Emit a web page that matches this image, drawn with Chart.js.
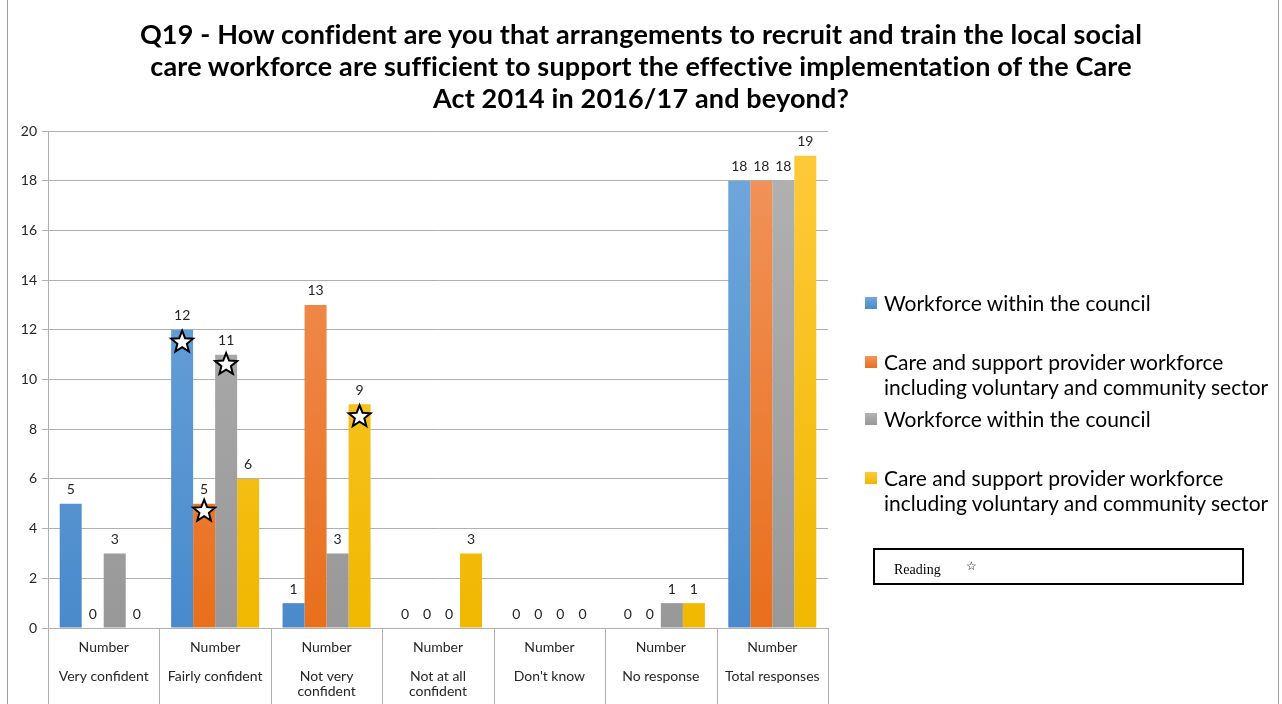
<!DOCTYPE html>
<html><head><meta charset="utf-8">
<script src="https://cdn.jsdelivr.net/npm/chart.js@4"></script>
<style>
html,body{margin:0;padding:0;background:#fff;}
#wrap{position:relative;width:1282px;height:704px;overflow:hidden;}
#c{position:absolute;left:0;top:0;}
.bl{position:absolute;top:0;width:1px;height:704px;background:#a0a0a0;}
#title{position:absolute;left:0;top:18px;width:1282px;text-align:center;font-family:Lato,"Open Sans",sans-serif;font-weight:bold;font-size:27px;line-height:32px;letter-spacing:0.15px;color:#000;}
#legend{position:absolute;left:865px;top:0;font-family:Lato,"Open Sans",sans-serif;font-size:21px;color:#000;}
.li{position:absolute;left:0;white-space:nowrap;line-height:25px;}
.sw{position:absolute;left:0;width:12px;height:12px;}
.tx{position:absolute;left:19px;}
#reading{position:absolute;left:873px;top:548px;width:367px;height:33px;border:2px solid #000;font-family:"Liberation Serif","DejaVu Serif",serif;font-size:14px;}
</style></head>
<body><div id="wrap">
<canvas id="c" width="1282" height="704"></canvas>
<div class="bl" style="left:7px"></div>
<div class="bl" style="left:1278px"></div>
<div id="title"></div>
<div id="legend"></div>
<div id="reading"><span style="position:absolute;left:19px;top:12px;">Reading</span><span style="position:absolute;left:91px;top:9px;font-family:'DejaVu Sans';font-size:12px;">☆</span></div>
</div>
<script>
const titleLines = ['Q19 - How confident are you that arrangements to recruit and train the local social', 'care workforce are sufficient to support the effective implementation of the Care', 'Act 2014 in 2016/17 and beyond?'];
const categories = [['Very confident'], ['Fairly confident'], ['Not very', 'confident'], ['Not at all', 'confident'], ["Don't know"], ['No response'], ['Total responses']];
const subLabel = 'Number';
const seriesNames = ['Workforce within the council', 'Care and support provider workforce including voluntary and community sector', 'Workforce within the council', 'Care and support provider workforce including voluntary and community sector'];
const legendLines = [['Workforce within the council'], ['Care and support provider workforce', 'including voluntary and community sector'], ['Workforce within the council'], ['Care and support provider workforce', 'including voluntary and community sector']];
const councilA = [5, 12, 1, 0, 0, 0, 18];
const providerA = [0, 5, 13, 0, 0, 0, 18];
const councilB = [3, 11, 3, 0, 0, 1, 18];
const providerB = [0, 6, 9, 3, 0, 1, 19];
const readingMarks = [
  {cat: 1, series: 0, value: 11.5},
  {cat: 1, series: 1, value: 4.7},
  {cat: 1, series: 2, value: 10.6},
  {cat: 2, series: 3, value: 8.5}
];
const yTicks = [0, 2, 4, 6, 8, 10, 12, 14, 16, 18, 20];

const gradStops = [['#72a9de', '#4a8acb'], ['#f2955e', '#e86f1c'], ['#b3b3b3', '#989898'], ['#ffca3c', '#f0b800']];
const solid = ['#5b9bd5', '#ed7d31', '#a5a5a5', '#ffc000'];

document.getElementById('title').innerHTML = titleLines.join('<br>');

function grad(i) {
  return function(ctx) {
    const ch = ctx.chart; const a = ch.chartArea;
    if (!a) return solid[i];
    const g = ch.ctx.createLinearGradient(0, a.top, 0, a.bottom);
    g.addColorStop(0, gradStops[i][0]); g.addColorStop(1, gradStops[i][1]);
    return g;
  };
}

const legendEl = document.getElementById('legend');
const legendTops = [290, 349, 406, 465];
legendLines.forEach((lines, i) => {
  const d = document.createElement('div'); d.className = 'li'; d.style.top = legendTops[i] + 'px';
  d.innerHTML = '<div class="sw" style="top:7px;background:linear-gradient(' + gradStops[i][0] + ',' + gradStops[i][1] + ')"></div><div class="tx">' + lines.join('<br>') + '</div>';
  legendEl.appendChild(d);
});

function drawStar(ctx, cx, cy, R, r) {
  ctx.beginPath();
  for (let k = 0; k < 10; k++) {
    const rad = k % 2 === 0 ? R : r;
    const ang = -Math.PI / 2 + k * Math.PI / 5;
    const x = cx + rad * Math.cos(ang), y = cy + rad * Math.sin(ang);
    k === 0 ? ctx.moveTo(x, y) : ctx.lineTo(x, y);
  }
  ctx.closePath();
  ctx.fillStyle = '#fff'; ctx.fill();
  ctx.lineWidth = 2; ctx.strokeStyle = '#000'; ctx.lineJoin = 'miter'; ctx.stroke();
}

const extras = {
  id: 'extras',
  afterDatasetsDraw(chart) {
    const ctx = chart.ctx; const y = chart.scales.y; const x = chart.scales.x; const a = chart.chartArea;
    ctx.save();
    ctx.font = '14px Lato, "Open Sans", sans-serif'; ctx.fillStyle = '#262626';
    ctx.textAlign = 'center'; ctx.textBaseline = 'middle';
    chart.data.datasets.forEach((ds, di) => {
      const meta = chart.getDatasetMeta(di);
      meta.data.forEach((bar, i) => {
        ctx.fillText(String(ds.data[i]), bar.x, bar.y - 14);
      });
    });
    readingMarks.forEach(m => {
      const bar = chart.getDatasetMeta(m.series).data[m.cat];
      drawStar(ctx, bar.x, y.getPixelForValue(m.value), 11.5, 5);
    });
    ctx.strokeStyle = '#b0b0b0'; ctx.lineWidth = 1;
    for (let i = 0; i <= categories.length; i++) {
      const px = Math.round(x.getPixelForValue(i - 0.5)) + 0.5;
      ctx.beginPath(); ctx.moveTo(px, a.bottom); ctx.lineTo(px, chart.height); ctx.stroke();
    }
    ctx.restore();
  }
};

new Chart(document.getElementById('c'), {
  type: 'bar',
  data: {
    labels: categories,
    datasets: [councilA, providerA, councilB, providerB].map((d, i) => ({
      label: seriesNames[i], data: d, backgroundColor: grad(i), borderWidth: 0,
      categoryPercentage: 0.79, barPercentage: 1
    }))
  },
  options: {
    responsive: false, animation: false,
    layout: {padding: {left: 0, right: 454, top: 131, bottom: 0}},
    plugins: {legend: {display: false}, tooltip: {enabled: false}, title: {display: false}},
    scales: {
      x: {
        offset: true,
        grid: {display: false},
        border: {display: false},
        ticks: {
          font: {family: 'Lato, "Open Sans", sans-serif', size: 14, lineHeight: 1.05},
          color: '#262626', padding: 4, maxRotation: 0, autoSkip: false,
          callback: function(v, i) { return [subLabel, ''].concat(categories[i]); }
        },
        afterFit: s => { s.height = 76; }
      },
      y: {
        min: 0, max: 20,
        afterBuildTicks: s => { s.ticks = yTicks.map(v => ({value: v})); },
        grid: {color: '#b0b0b0', tickLength: 6, drawTicks: true},
        border: {display: true, color: '#b0b0b0'},
        ticks: {font: {family: 'Lato, "Open Sans", sans-serif', size: 14}, color: '#262626', padding: 5},
        afterFit: s => { s.width = 48; }
      }
    }
  },
  plugins: [extras]
});
</script>
</body></html>
